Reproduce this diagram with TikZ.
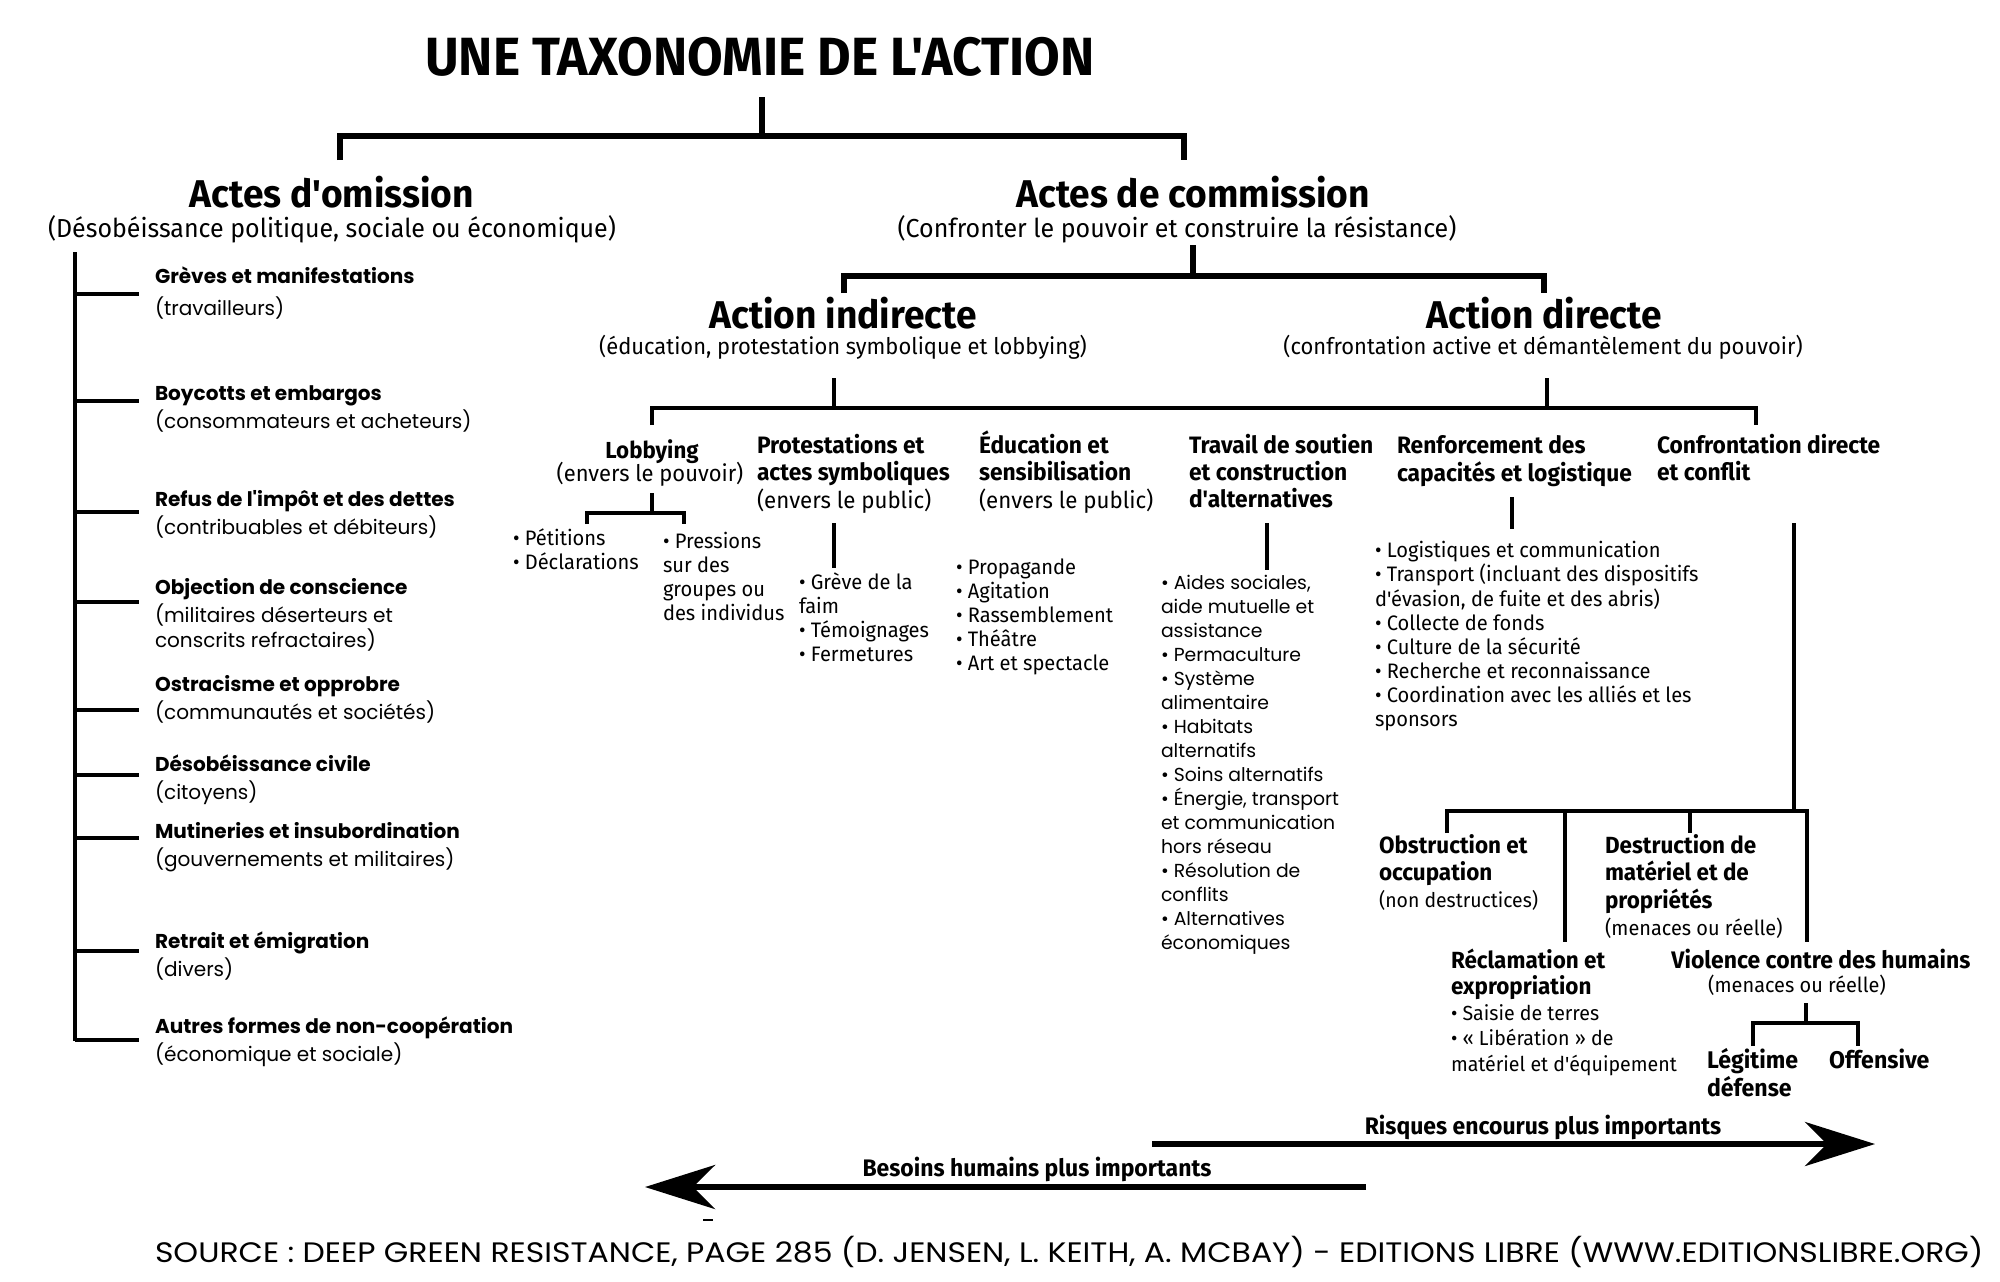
\documentclass[tikz,border=0pt]{standalone}
\usepackage{fontspec}
\setmainfont{Fira Sans}[FakeStretch=0.96, Ligatures=TeXOff]
\newfontfamily\poppfont{Poppins}
\newfontfamily\srcfont{Poppins}[FakeStretch=1.12]
\usetikzlibrary{arrows.meta}
\newcommand\blocktxt[2]{\begin{tabular}[t]{@{}#1@{}}#2\end{tabular}}
\newcommand\fs[2]{\fontsize{#1}{#2}\selectfont}
\tikzset{
  txt/.style={inner sep=0pt, outer sep=0pt},
  lnA/.style={line width=1.6pt},
  lnB/.style={line width=1.4pt},
  arw/.style={line width=1.8pt, -{Stealth[length=0.7cm,width=0.44cm,inset=0.22cm]}},
  lefttxt/.style={txt, anchor=base west, font=\poppfont\fs{5.7pt}{7.97pt}},
  lthree/.style={txt, anchor=base west, font=\fs{6.6pt}{7.68pt}},
  blist/.style={txt, anchor=base west, font=\fs{5.95pt}{6.83pt}},
  lowbold/.style={txt, anchor=base west, font=\fs{6.7pt}{7.68pt}},
}
\begin{document}
\begin{tikzpicture}[x=0.01cm, y=-0.01cm]
\useasboundingbox (0,0) rectangle (2000,1281);

% ---- title and level 1
\node[txt, anchor=base, font=\fs{15.3pt}{18pt}\bfseries] (title) at (760,75) {UNE TAXONOMIE DE L'ACTION};
\node[txt, anchor=base, font=\fs{11pt}{13pt}\bfseries] (omis) at (332,207) {Actes d'omission};
\node[txt, anchor=base, font=\fs{7.4pt}{9pt}] (omisSub) at (332,237) {(Désobéissance politique, sociale ou économique)};
\node[txt, anchor=base, font=\fs{11pt}{13pt}\bfseries] (comm) at (1193,207) {Actes de commission};
\node[txt, anchor=base, font=\fs{7.4pt}{9pt}] (commSub) at (1177,237) {(Confronter le pouvoir et construire la résistance)};

\coordinate (tTop) at (762,97);
\coordinate (tJ) at (762,136);
\coordinate (omDrop) at (340,160);
\coordinate (comDrop) at (1184,160);
\draw[lnA] (tTop) -- (tJ);
\draw[lnA] (omDrop) |- (tJ) -| (comDrop);

% ---- level 2
\node[txt, anchor=base, font=\fs{11pt}{13pt}\bfseries] (indir) at (843,328) {Action indirecte};
\node[txt, anchor=base, font=\fs{6.5pt}{8pt}] (indirSub) at (843,354) {(éducation, protestation symbolique et lobbying)};
\node[txt, anchor=base, font=\fs{11pt}{13pt}\bfseries] (dir) at (1544,328) {Action directe};
\node[txt, anchor=base, font=\fs{6.5pt}{8pt}] (dirSub) at (1543,354) {(confrontation active et démantèlement du pouvoir)};

\coordinate (cTop) at (1193,245);
\coordinate (cJ) at (1193,276);
\coordinate (indDrop) at (844,293);
\coordinate (dirDrop) at (1544,293);
\draw[lnA] (cTop) -- (cJ);
\draw[lnA] (indDrop) |- (cJ) -| (dirDrop);

% ---- level 3 bracket
\coordinate (iTop) at (834,378);
\coordinate (iJ) at (834,408);
\coordinate (dTop) at (1547,378);
\coordinate (dJ) at (1547,408);
\coordinate (lobDrop) at (652,425);
\coordinate (confDrop) at (1756,425);
\draw[lnB] (iTop) -- (iJ);
\draw[lnB] (dTop) -- (dJ);
\draw[lnB] (lobDrop) |- (iJ) -- (dJ) -| (confDrop);

% ---- Lobbying
\node[txt, anchor=base, font=\fs{6.6pt}{8pt}\bfseries] (lob) at (652,458) {Lobbying};
\node[txt, anchor=base, font=\fs{6.5pt}{8pt}] (lobSub) at (650,481) {(envers le pouvoir)};
\coordinate (lTop) at (652,493);
\coordinate (lJ) at (652,513);
\coordinate (lA) at (587,524);
\coordinate (lB) at (684,524);
\draw[lnB] (lTop) -- (lJ);
\draw[lnB] (lA) |- (lJ) -| (lB);
\node[blist] (lobA) at (513,545) {\blocktxt{l}{• Pétitions\\• Déclarations}};
\node[blist] (lobB) at (663,548) {\blocktxt{l}{• Pressions\\sur des\\groupes ou\\des individus}};

% ---- Protestations
\node[lthree] (prot) at (757,453) {\blocktxt{l}{\textbf{\fs{6.75pt}{7.68pt}Protestations et}\\\textbf{\fs{6.75pt}{7.68pt}actes symboliques}\\(envers le public)}};
\coordinate (pTop) at (834,523);
\coordinate (pBot) at (834,568);
\draw[lnB] (pTop) -- (pBot);
\node[blist] (protList) at (799,589) {\blocktxt{l}{• Grève de la\\faim\\• Témoignages\\• Fermetures}};

% ---- Education
\node[lthree] (educ) at (979,453) {\blocktxt{l}{\textbf{\fs{6.75pt}{7.68pt}Éducation et}\\\textbf{\fs{6.75pt}{7.68pt}sensibilisation}\\(envers le public)}};
\node[blist] (educList) at (956,574) {\blocktxt{l}{• Propagande\\• Agitation\\• Rassemblement\\• Théâtre\\• Art et spectacle}};

% ---- Travail
\node[lthree, font=\fs{6.75pt}{7.68pt}\bfseries] (trav) at (1189,453) {\blocktxt{l}{Travail de soutien\\et construction\\d'alternatives}};
\coordinate (trTop) at (1267,523);
\coordinate (trBot) at (1267,570);
\draw[lnB] (trTop) -- (trBot);
\node[txt, anchor=base west, font=\poppfont\fs{5.35pt}{6.83pt}] (travList) at (1161,589) {\blocktxt{l}{• Aides sociales,\\aide mutuelle et\\assistance\\• Permaculture\\• Système\\alimentaire\\• Habitats\\alternatifs\\• Soins alternatifs\\• Énergie, transport\\et communication\\hors réseau\\• Résolution de\\conflits\\• Alternatives\\économiques}};

% ---- Renforcement
\node[txt, anchor=base west, font=\fs{6.75pt}{7.97pt}\bfseries] (renf) at (1397,453) {\blocktxt{l}{Renforcement des\\capacités et logistique}};
\coordinate (rTop) at (1512,497);
\coordinate (rBot) at (1512,529);
\draw[lnB] (rTop) -- (rBot);
\node[blist] (renfList) at (1375,557) {\blocktxt{l}{• Logistiques et communication\\• Transport (incluant des dispositifs\\d'évasion, de fuite et des abris)\\• Collecte de fonds\\• Culture de la sécurité\\• Recherche et reconnaissance\\• Coordination avec les alliés et les\\sponsors}};

% ---- Confrontation
\node[lthree, font=\fs{6.75pt}{7.68pt}\bfseries] (conf) at (1657,453) {\blocktxt{l}{Confrontation directe\\et conflit}};
\coordinate (cfTop) at (1794,523);
\coordinate (cfJ) at (1794,811);
\coordinate (obDrop) at (1447,833);
\coordinate (vioDrop) at (1807,942);
\coordinate (reTop) at (1565,811);
\coordinate (reDrop) at (1565,942);
\coordinate (deTop) at (1690,811);
\coordinate (deDrop) at (1690,833);
\draw[lnB] (cfTop) -- (cfJ);
\draw[lnB] (obDrop) |- (cfJ) -| (vioDrop);
\draw[lnB] (reTop) -- (reDrop);
\draw[lnB] (deTop) -- (deDrop);

\node[lowbold, font=\fs{6.65pt}{7.68pt}] (obst) at (1379,853) {\blocktxt{l}{\textbf{Obstruction et}\\\textbf{occupation}\\{\fs{5.75pt}{7pt}(non destructices)}}};
\node[lowbold, font=\fs{6.65pt}{7.68pt}] (destr) at (1605,853) {\blocktxt{l}{\textbf{Destruction de}\\\textbf{matériel et de}\\\textbf{propriétés}\\{\fs{5.9pt}{7pt}(menaces ou réelle)}}};
\node[txt, anchor=base west, font=\fs{6.65pt}{7.26pt}] (recl) at (1451,968) {\blocktxt{l}{\textbf{Réclamation et}\\\textbf{expropriation}\\{\fs{5.8pt}{7pt}• Saisie de terres}\\{\fs{5.8pt}{7pt}• « Libération » de}\\{\fs{5.8pt}{7pt}matériel et d'équipement}}};
\node[txt, anchor=base, font=\fs{6.8pt}{8pt}\bfseries] (viol) at (1821,968) {Violence contre des humains};
\node[txt, anchor=base, font=\fs{5.9pt}{7pt}] (violSub) at (1797,992) {(menaces ou réelle)};
\coordinate (vTop) at (1806,1003);
\coordinate (vJ) at (1806,1023);
\coordinate (legDrop) at (1753,1046);
\coordinate (offDrop) at (1858,1046);
\draw[lnB] (vTop) -- (vJ);
\draw[lnB] (legDrop) |- (vJ) -| (offDrop);
\node[lowbold, font=\fs{6.85pt}{7.68pt}\bfseries] (legit) at (1707,1068) {\blocktxt{l}{Légitime\\défense}};
\node[lowbold, font=\fs{6.85pt}{7.68pt}\bfseries] (offen) at (1829,1068) {Offensive};

% ---- left column
\coordinate (barTop) at (75,252);
\coordinate (barBot) at (75,1041);
\draw[lnB] (barTop) -- (barBot);
\foreach \yy [count=\i] in {294,401,512,602,710,775,838,951,1040}{
  \coordinate (tk\i) at (75,\yy);
  \coordinate (te\i) at (139,\yy);
  \draw[lnB] (tk\i) -- (te\i);
}
\node[lefttxt] (g1) at (155,283) {\blocktxt{l}{\textbf{Grèves et manifestations}\\[0.4mm](travailleurs)}};
\node[lefttxt] (g2) at (155,400) {\blocktxt{l}{\textbf{Boycotts et embargos}\\(consommateurs et acheteurs)}};
\node[lefttxt] (g3) at (155,506) {\blocktxt{l}{\textbf{Refus de l'impôt et des dettes}\\(contribuables et débiteurs)}};
\node[lefttxt] (g4) at (155,594) {\blocktxt{l}{\textbf{Objection de conscience}\\(militaires déserteurs et\\[-0.3mm]conscrits refractaires)}};
\node[lefttxt] (g5) at (155,691) {\blocktxt{l}{\textbf{Ostracisme et opprobre}\\(communautés et sociétés)}};
\node[lefttxt] (g6) at (155,771) {\blocktxt{l}{\textbf{Désobéissance civile}\\(citoyens)}};
\node[lefttxt] (g7) at (155,838) {\blocktxt{l}{\textbf{Mutineries et insubordination}\\(gouvernements et militaires)}};
\node[lefttxt] (g8) at (155,948) {\blocktxt{l}{\textbf{Retrait et émigration}\\(divers)}};
\node[lefttxt] (g9) at (155,1033) {\blocktxt{l}{\textbf{Autres formes de non-coopération}\\(économique et sociale)}};

% ---- arrows
\node[txt, anchor=base, font=\fs{6.8pt}{8pt}\bfseries] (risk) at (1543,1134) {Risques encourus plus importants};
\coordinate (rkA) at (1152,1144);
\coordinate (rkB) at (1875,1144);
\draw[arw] (rkA) -- (rkB);
\node[txt, anchor=base, font=\fs{6.8pt}{8pt}\bfseries] (besoin) at (1037,1176) {Besoins humains plus importants};
\coordinate (bsA) at (1366,1187);
\coordinate (bsB) at (645,1187);
\draw[arw] (bsA) -- (bsB);
\coordinate (dshA) at (703,1220);
\coordinate (dshB) at (713,1220);
\draw[line width=0.6pt] (dshA) -- (dshB);

% ---- source
\node[txt, anchor=base west, font=\srcfont\fs{8pt}{9pt}] (src) at (155,1262) {SOURCE : DEEP GREEN RESISTANCE, PAGE 285 (D. JENSEN, L. KEITH, A. MCBAY) - EDITIONS LIBRE (WWW.EDITIONSLIBRE.ORG)};
\end{tikzpicture}
\end{document}
